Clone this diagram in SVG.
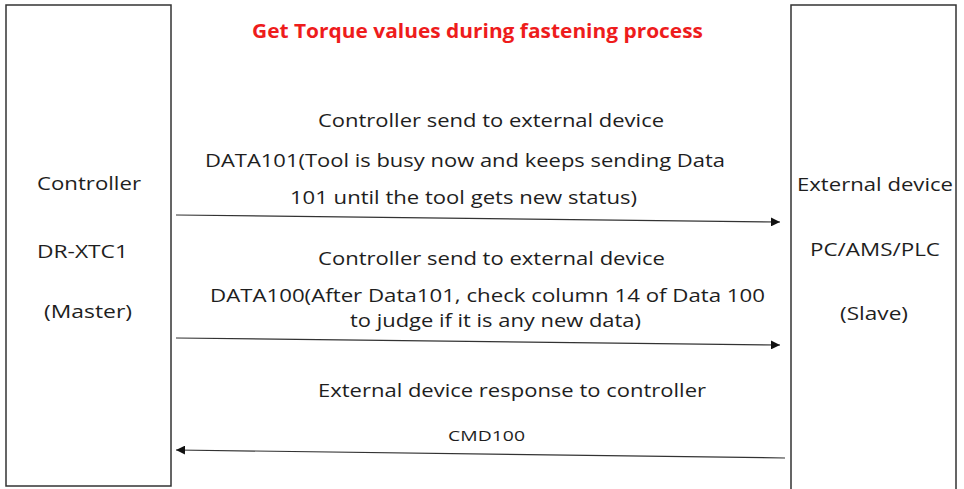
<svg xmlns="http://www.w3.org/2000/svg" width="964" height="489" viewBox="0 0 964 489">
<style>
.box{fill:#fff;stroke:#333;stroke-width:1.5}
.t{font-family:"Open Sans","Liberation Sans",Arial,sans-serif;font-size:18px;fill:#1e1e1e}
.title{font-family:"Open Sans","Liberation Sans",Arial,sans-serif;font-size:19px;font-weight:bold;fill:#ee1c1c}
.sm{font-size:15px}
.ln{stroke:#333;stroke-width:1.2;fill:none}
</style>
<defs>
<marker id="ah" viewBox="0 0 10 10" refX="10" refY="5" markerWidth="9" markerHeight="9" markerUnits="userSpaceOnUse" orient="auto">
<path d="M0,0 L10,5 L0,10 Z" fill="#111"/>
</marker>
</defs>
<rect width="964" height="489" fill="#fff"/>
<g id="controller">
<rect class="box" x="6" y="5" width="165" height="481"/>
<text class="t" x="37" y="190" textLength="104" lengthAdjust="spacingAndGlyphs">Controller</text>
<text class="t" x="37" y="258" textLength="91" lengthAdjust="spacingAndGlyphs">DR-XTC1</text>
<text class="t" x="44" y="318" textLength="88" lengthAdjust="spacingAndGlyphs">(Master)</text>
</g>
<g id="external">
<rect class="box" x="791" y="5" width="165" height="500"/>
<text class="t" x="797" y="191" textLength="156" lengthAdjust="spacingAndGlyphs">External device</text>
<text class="t" x="810" y="256" textLength="130" lengthAdjust="spacingAndGlyphs">PC/AMS/PLC</text>
<text class="t" x="840" y="320" textLength="68" lengthAdjust="spacingAndGlyphs">(Slave)</text>
</g>
<text class="title" x="252" y="38" textLength="451" lengthAdjust="spacingAndGlyphs">Get Torque values during fastening process</text>
<g id="connectors">
<line class="ln" x1="176" y1="215" x2="780" y2="222" marker-end="url(#ah)"/>
<line class="ln" x1="176" y1="338" x2="780" y2="345" marker-end="url(#ah)"/>
<line class="ln" x1="785" y1="458" x2="176" y2="450" marker-end="url(#ah)"/>
</g>
<g id="labels">
<text class="t" x="318" y="127" textLength="346" lengthAdjust="spacingAndGlyphs">Controller send to external device</text>
<text class="t" x="205" y="167" textLength="520" lengthAdjust="spacingAndGlyphs">DATA101(Tool is busy now and keeps sending Data</text>
<text class="t" x="290" y="204" textLength="347" lengthAdjust="spacingAndGlyphs">101 until the tool gets new status)</text>
<text class="t" x="318" y="265" textLength="347" lengthAdjust="spacingAndGlyphs">Controller send to external device</text>
<text class="t" x="210" y="302" textLength="555" lengthAdjust="spacingAndGlyphs">DATA100(After Data101, check column 14 of Data 100</text>
<text class="t" x="350" y="327" textLength="291" lengthAdjust="spacingAndGlyphs">to judge if it is any new data)</text>
<text class="t" x="318" y="397" textLength="388" lengthAdjust="spacingAndGlyphs">External device response to controller</text>
<text class="t sm" x="448" y="441" textLength="77" lengthAdjust="spacingAndGlyphs">CMD100</text>
</g>
</svg>
